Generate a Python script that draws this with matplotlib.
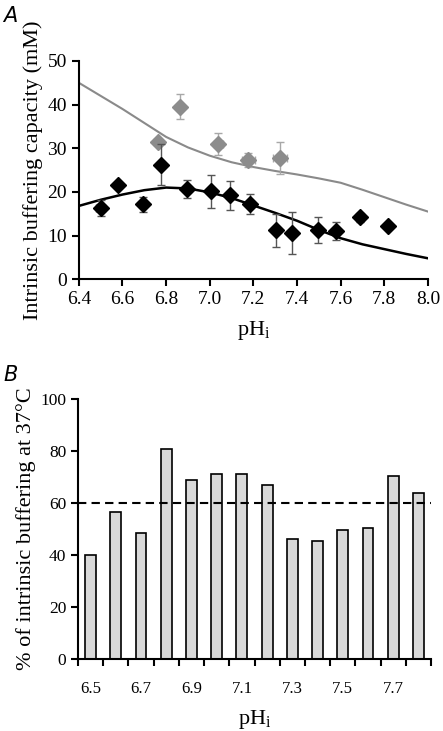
import numpy as np
import matplotlib.pyplot as plt

plt.rcParams['font.family'] = ['Liberation Serif', 'DejaVu Serif']

# panel A: black points (control) with errors
black_ph = [6.50, 6.58, 6.695, 6.776, 6.897, 7.005, 7.092, 7.184, 7.302, 7.375, 7.497, 7.578, 7.688, 7.815]
black_buf = [16.4, 21.7, 17.2, 26.2, 20.7, 20.1, 19.2, 17.2, 11.2, 10.6, 11.2, 11.0, 14.2, 12.2]
black_err = [1.8, 0.0, 1.7, 4.7, 2.0, 3.7, 3.4, 2.3, 3.7, 4.9, 3.0, 2.1, 1.0, 0.0]
black_xerr = [0.02, 0.0, 0.0, 0.0, 0.0, 0.0, 0.0, 0.0, 0.0, 0.0, 0.0, 0.0, 0.02, 0.0]

# panel A: grey points with errors
grey_ph = [6.761, 6.863, 7.039, 7.177, 7.322]
grey_buf = [31.5, 39.5, 30.9, 27.3, 27.8]
grey_err = [0.6, 2.9, 2.5, 1.7, 3.6]
grey_xerr = [0.015, 0.0, 0.02, 0.03, 0.03]

# panel A: fitted curves
curve_ph = [6.4, 6.5, 6.6, 6.7, 6.8, 6.9, 7.0, 7.1, 7.2, 7.3, 7.4, 7.5, 7.6, 7.7, 7.8, 7.9, 8.0]
grey_curve = [45.0, 42.0, 39.0, 35.8, 32.6, 30.2, 28.3, 26.8, 25.7, 24.8, 24.0, 23.1, 22.1, 20.5, 18.8, 17.1, 15.5]
black_curve = [16.8, 18.2, 19.4, 20.4, 21.0, 20.8, 19.9, 18.6, 16.9, 15.2, 13.4, 11.3, 9.4, 8.0, 6.9, 5.8, 4.8]

# panel B: percentage of intrinsic buffering at 37C
bar_ph = ['6.5', '6.6', '6.7', '6.8', '6.9', '7.0', '7.1', '7.2', '7.3', '7.4', '7.5', '7.6', '7.7', '7.8']
bar_pct = [40, 56.5, 48.5, 81, 69, 71, 71, 67, 46, 45.5, 49.5, 50.5, 70.5, 64]
threshold = 60

fig = plt.figure(figsize=(4.43, 7.31), dpi=100)

# ---- panel A
ax1 = fig.add_axes([0.178, 0.618, 0.788, 0.2986])
ax1.plot(curve_ph, grey_curve, color='#8a8a8a', lw=1.5, zorder=2)
ax1.plot(curve_ph, black_curve, color='black', lw=1.8, zorder=2)
ax1.errorbar(grey_ph, grey_buf, yerr=grey_err, xerr=grey_xerr, fmt='D', color='#8c8c8c',
             ecolor='#a8a8a8', elinewidth=1, capsize=3, ms=8, zorder=3)
ax1.errorbar(black_ph, black_buf, yerr=black_err, xerr=black_xerr, fmt='D', color='black',
             ecolor='#555555', elinewidth=1, capsize=3, ms=8, zorder=4)
ax1.set_xlim(6.4, 8.0)
ax1.set_ylim(0, 50)
ax1.set_xticks(np.arange(6.4, 8.01, 0.2))
ax1.set_xticklabels(['%.1f' % v for v in np.arange(6.4, 8.01, 0.2)])
ax1.set_yticks(range(0, 51, 10))
for s in ['top', 'right']:
    ax1.spines[s].set_visible(False)
for s in ['left', 'bottom']:
    ax1.spines[s].set_linewidth(1.5)
ax1.tick_params(direction='out', length=5, width=1.5, labelsize=14)
ax1.set_ylabel('Intrinsic buffering capacity (mM)', fontsize=16, labelpad=3)
ax1.set_xlabel('pH$_\\mathregular{i}$', fontsize=16, labelpad=8)
fig.text(0.008, 0.978, 'A', fontsize=15, style='italic', family='DejaVu Sans', va='center')

# ---- panel B
ax2 = fig.add_axes([0.176, 0.0985, 0.797, 0.3555])
xpos = np.arange(len(bar_ph))
ax2.bar(xpos, bar_pct, width=0.43, color='#d9d9d9', edgecolor='black', linewidth=1.2, zorder=2)
ax2.axhline(threshold, color='black', ls=(0, (4, 2.5)), lw=1.5, zorder=3)
ax2.set_xlim(-0.5, len(bar_ph) - 0.5)
ax2.set_ylim(0, 100)
ax2.set_yticks(range(0, 101, 20))
ax2.set_xticks(np.arange(-0.5, len(bar_ph), 1.0))
ax2.set_xticklabels([])
ax2.set_xticks(xpos[::2], minor=True)
ax2.set_xticklabels(bar_ph[::2], minor=True)
ax2.tick_params(axis='x', which='minor', length=0, pad=16, labelsize=12)
ax2.tick_params(axis='both', which='major', direction='out', length=5, width=1.5, labelsize=12.5)
for s in ['top', 'right']:
    ax2.spines[s].set_visible(False)
for s in ['left', 'bottom']:
    ax2.spines[s].set_linewidth(1.5)
ax2.set_ylabel('% of intrinsic buffering at 37\u00b0C', fontsize=16, labelpad=3)
ax2.set_xlabel('pH$_\\mathregular{i}$', fontsize=16, labelpad=8)
fig.text(0.008, 0.487, 'B', fontsize=15, style='italic', family='DejaVu Sans', va='center')

fig.savefig('out.png', dpi=100)
